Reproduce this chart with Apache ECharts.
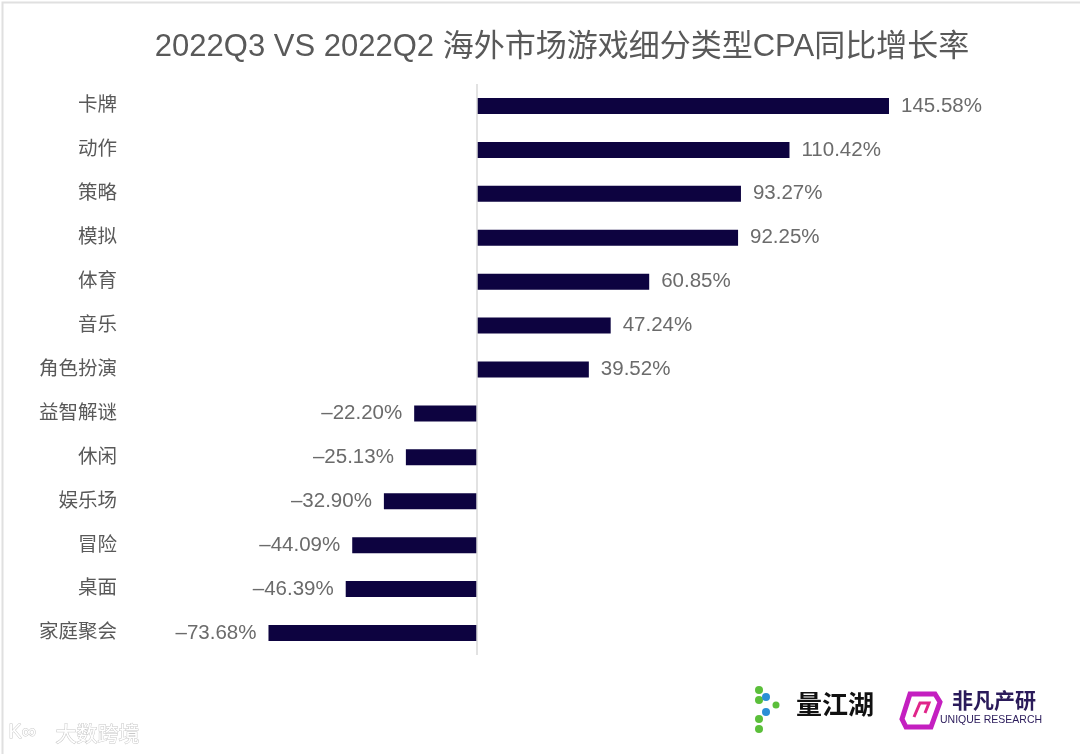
<!DOCTYPE html>
<html>
<head>
<meta charset="utf-8">
<script src="https://cdn.jsdelivr.net/npm/echarts@6/dist/echarts.min.js"></script>
<style>
html,body{margin:0;padding:0;background:#fff;}
#main{width:1080px;height:754px;}
</style>
</head>
<body>
<div id="main"></div>
<script>
var categories = ['卡牌','动作','策略','模拟','体育','音乐','角色扮演','益智解谜','休闲','娱乐场','冒险','桌面','家庭聚会'];
var values = [145.58, 110.42, 93.27, 92.25, 60.85, 47.24, 39.52, -22.20, -25.13, -32.90, -44.09, -46.39, -73.68];
var titleText = '2022Q3 VS 2022Q2 海外市场游戏细分类型CPA同比增长率';

var chart = echarts.init(document.getElementById('main'));
var font = '"Liberation Sans", "Noto Sans CJK SC", sans-serif';

var seriesData = values.map(function (v) {
  return {
    value: v,
    label: { position: v < 0 ? 'left' : 'right' }
  };
});

chart.setOption({
  backgroundColor: '#ffffff',
  animation: false,
  title: {
    text: titleText,
    left: 563,
    textAlign: 'center',
    top: 27,
    textStyle: { fontSize: 31, fontWeight: 'normal', color: '#595959', fontFamily: font, width: 820 }
  },
  grid: { left: 194, right: 37, top: 84, height: 571, containLabel: false },
  xAxis: {
    type: 'value',
    min: -100,
    max: 200,
    show: false,
    splitLine: { show: false }
  },
  yAxis: {
    type: 'category',
    data: categories,
    inverse: true,
    axisLine: { show: false },
    axisTick: { show: false },
    axisLabel: {
      margin: 77,
      fontSize: 19.5,
      color: '#595959',
      fontFamily: font
    }
  },
  series: [{
    type: 'bar',
    data: seriesData,
    barWidth: 16,
    itemStyle: { color: '#0d0340' },
    label: {
      show: true,
      distance: 12,
      fontSize: 20.5,
      color: '#6b6b6b',
      fontFamily: font,
      formatter: function (p) {
        var v = p.value;
        return (v < 0 ? '–' + Math.abs(v).toFixed(2) : v.toFixed(2)) + '%';
      }
    },
    markLine: {
      silent: true,
      symbol: 'none',
      label: { show: false },
      lineStyle: { color: '#d9d9d9', width: 1.5, type: 'solid' },
      data: [{ xAxis: 0 }]
    }
  }],
  graphic: [
    { type: 'rect', left: 0, top: 0, shape: { width: 1079, height: 753 }, style: { fill: 'none', stroke: '#e0e0e0', lineWidth: 2 }, silent: true },
    // 量江湖 logo
    { type: 'circle', shape: { cx: 759, cy: 690, r: 4 }, style: { fill: '#5bbf3a' } },
    { type: 'circle', shape: { cx: 759, cy: 700, r: 4 }, style: { fill: '#5bbf3a' } },
    { type: 'circle', shape: { cx: 766, cy: 697, r: 4 }, style: { fill: '#2b8fd6' } },
    { type: 'circle', shape: { cx: 766, cy: 712, r: 4 }, style: { fill: '#2b8fd6' } },
    { type: 'circle', shape: { cx: 759, cy: 719, r: 4 }, style: { fill: '#5bbf3a' } },
    { type: 'circle', shape: { cx: 759, cy: 729, r: 4 }, style: { fill: '#5bbf3a' } },
    { type: 'circle', shape: { cx: 776, cy: 705, r: 3.5 }, style: { fill: '#5bbf3a' } },
    { type: 'text', left: 796, top: 691, style: { text: '量江湖', fontSize: 26, fontWeight: 'bold', fill: '#111', fontFamily: '"Noto Sans CJK SC", sans-serif' } },
    // 非凡产研 logo
    { type: 'polygon', shape: { points: [[910,694],[935,694],[940,702],[931,727],[906,727],[902,719]] }, style: { fill: 'none', stroke: '#c41fc0', lineWidth: 5 } },
    { type: 'polyline', shape: { points: [[914,717],[920,703],[929,703],[925,713]] }, style: { stroke: '#e0258a', lineWidth: 3, fill: 'none' } },
    { type: 'text', left: 952, top: 690, style: { text: '非凡产研', fontSize: 21, fontWeight: 'bold', fill: '#2a1a5a', fontFamily: '"Noto Sans CJK SC", sans-serif' } },
    { type: 'text', left: 940, top: 715, style: { text: 'UNIQUE RESEARCH', fontSize: 10.5, fill: '#2a1a5a', fontFamily: '"Liberation Sans Narrow", "Liberation Sans", sans-serif' } },
    // watermark
    { type: 'text', left: 8, top: 722, style: { text: 'K∞', fontSize: 20, fill: '#ffffff', stroke: '#c8c8c8', lineWidth: 1, fontFamily: font } },
    { type: 'text', left: 55, top: 722, style: { text: '大数跨境', fontSize: 21, fill: '#ffffff', stroke: '#c8c8c8', lineWidth: 1, fontFamily: '"Noto Sans CJK SC", sans-serif' } }
  ]
});
chart.setOption({ title: { left: 557 } });
</script>
</body>
</html>
